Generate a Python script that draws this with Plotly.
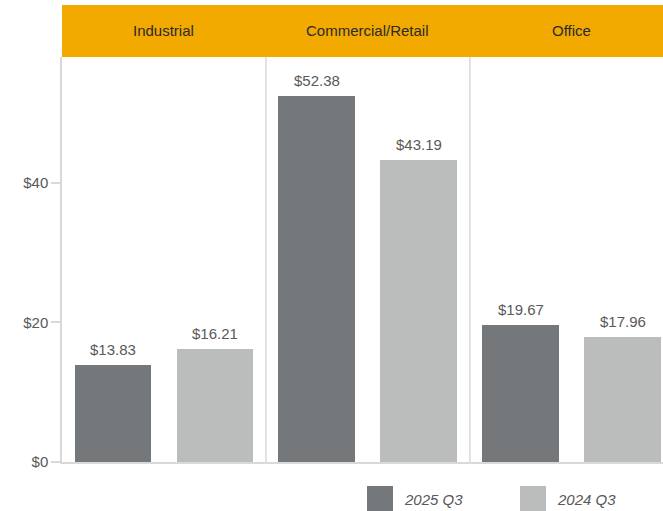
import plotly.graph_objects as go

categories = ["Industrial", "Commercial/Retail", "Office"]
series_names = ["2025 Q3", "2024 Q3"]
values_2025 = [13.83, 52.38, 19.67]
values_2024 = [16.21, 43.19, 17.96]
y_ticks = [0, 20, 40]
y_tick_labels = ["$0", "$20", "$40"]

colors = ["#75787b", "#bbbcbc"]
ORANGE = "#f2a900"
GRID = "#d9d9d9"
TXT = "#595959"
FONT = "Liberation Sans, Arial, sans-serif"

W, H = 663, 511
ML, MR, MT, MB = 62, 0, 57, 49
plot_w = W - ML - MR
plot_h = H - MT - MB

xs = list(range(len(categories)))
offset = 0.25
bar_w = 0.377

fig = go.Figure()
annotations = []
for k, (name, vals) in enumerate(zip(series_names, [values_2025, values_2024])):
    sign = -1 if k == 0 else 1
    bx = [x + sign * offset for x in xs]
    fig.add_trace(go.Bar(
        x=bx,
        y=vals,
        width=bar_w,
        name=name,
        marker=dict(color=colors[k], line=dict(width=0)),
        showlegend=False,
        hovertemplate="%{y:$.2f}<extra>" + name + "</extra>",
    ))
    for x, v in zip(bx, vals):
        annotations.append(dict(x=x, y=v, xref="x", yref="y", text=f"${v:.2f}",
                                showarrow=False, xanchor="center", yanchor="bottom",
                                yshift=5, font=dict(family=FONT, size=15, color=TXT)))

shapes = []
# header band
hdr_h = 52 / plot_h
shapes.append(dict(type="rect", xref="paper", yref="paper", x0=0, x1=1,
                   y0=1, y1=1 + hdr_h, fillcolor=ORANGE, line=dict(width=0), layer="below"))
for i, c in enumerate(categories):
    annotations.append(dict(x=i, y=1 + hdr_h / 2, xref="x", yref="paper", text=c,
                            showarrow=False, xanchor="center", yanchor="middle",
                            font=dict(family=FONT, size=15, color="#2b2b2b")))
# panel dividers
for i in range(len(categories) - 1):
    shapes.append(dict(type="line", xref="x", yref="paper", x0=i + 0.5, x1=i + 0.5,
                       y0=0, y1=1, line=dict(color=GRID, width=1.5), layer="below"))

# manual legend
sq = 26
leg_x = [367, 520]
base = H - MB
for k, name in enumerate(series_names):
    x0 = (leg_x[k] - ML) / plot_w
    x1 = (leg_x[k] + sq - ML) / plot_w
    y0 = -(486 - base) / plot_h
    y1 = -(512 - base) / plot_h
    shapes.append(dict(type="rect", xref="paper", yref="paper", x0=x0, x1=x1,
                       y0=y0, y1=y1, fillcolor=colors[k], line=dict(width=0)))
    annotations.append(dict(x=(leg_x[k] + sq + 9 - ML) / plot_w, y=-(499 - base) / plot_h,
                            xref="paper", yref="paper", text=f"<i>{name}</i>",
                            showarrow=False, xanchor="left", yanchor="middle",
                            font=dict(family=FONT, size=15, color=TXT)))

fig.update_layout(
    width=W, height=H,
    margin=dict(l=ML, r=MR, t=MT, b=MB, pad=0),
    paper_bgcolor="white", plot_bgcolor="white",
    shapes=shapes, annotations=annotations,
    bargap=0,
    xaxis=dict(range=[-0.5, 2.447], showgrid=False, zeroline=False, showticklabels=False,
               ticks="", showline=True, linecolor=GRID, linewidth=1.5, fixedrange=True),
    yaxis=dict(range=[0, 58], tickvals=y_ticks, ticktext=y_tick_labels, showgrid=False,
               zeroline=False, showline=True, linecolor=GRID, linewidth=1.5,
               ticks="outside", ticklen=9, tickcolor=GRID, tickwidth=1.5,
               tickfont=dict(family=FONT, size=15, color=TXT)),
    font=dict(family=FONT),
)

fig.write_html(
    "out.html",
    config={"displayModeBar": False},
    post_script="document.body.style.margin='0';document.body.style.padding='0';"
                "document.body.style.overflow='hidden';",
)
